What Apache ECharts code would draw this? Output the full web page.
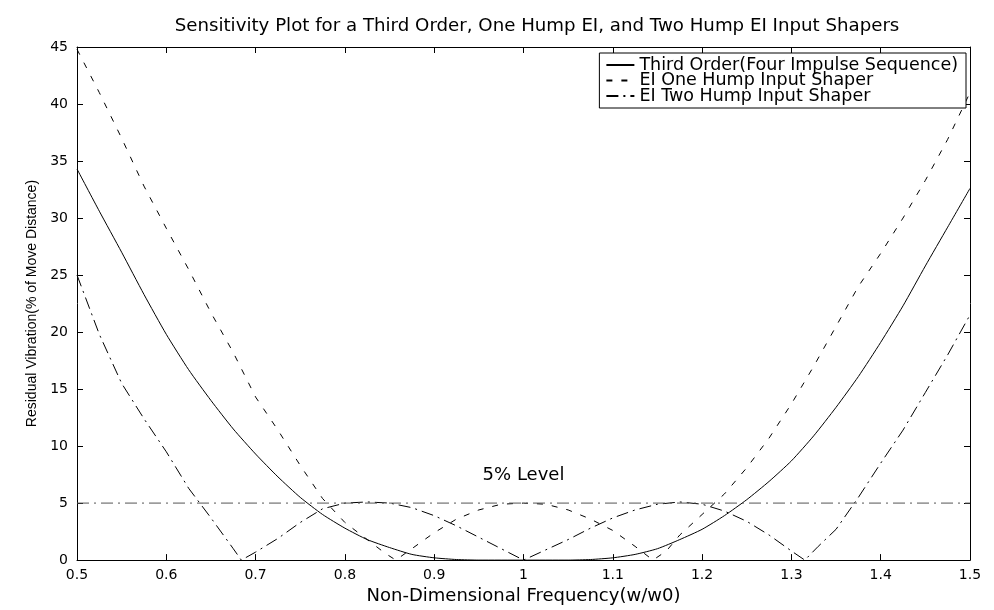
<!DOCTYPE html>
<html>
<head>
<meta charset="utf-8">
<script src="https://cdn.jsdelivr.net/npm/echarts@6/dist/echarts.min.js"></script>
<style>html,body{margin:0;padding:0;background:#fff;}#chart{width:994px;height:610px;}</style>
</head>
<body>
<div id="chart"></div>
<script>
const titleText = 'Sensitivity Plot for a Third Order, One Hump EI, and Two Hump EI Input Shapers';
const xAxisName = 'Non-Dimensional Frequency(w/w0)';
const yAxisName = 'Residual Vibration(% of Move Distance)';
const seriesNames = ['Third Order(Four Impulse Sequence)', 'EI One Hump Input Shaper', 'EI Two Hump Input Shaper'];
const xTickLabels = ['0.5','0.6','0.7','0.8','0.9','1','1.1','1.2','1.3','1.4','1.5'];
const yTickLabels = ['0','5','10','15','20','25','30','35','40','45'];

const thirdX = [0.5,0.525,0.55,0.575,0.6,0.625,0.65,0.675,0.7,0.725,0.75,0.775,0.8,0.825,0.85,0.875,0.9,0.925,0.95,1.0,1.05,1.075,1.1,1.125,1.15,1.175,1.2,1.225,1.25,1.275,1.3,1.325,1.35,1.375,1.4,1.425,1.45,1.475,1.5];
const thirdY = [34.3,30.6,27.0,23.3,19.8,16.7,14.0,11.5,9.3,7.3,5.5,4.0,2.8,1.8,1.1,0.5,0.2,0.05,0,0,0,0.05,0.2,0.5,1.0,1.8,2.7,3.9,5.3,6.9,8.7,10.9,13.4,16.1,19.1,22.3,25.8,29.2,32.6];

const oneHumpX = [0.5,0.525,0.55,0.575,0.6,0.625,0.65,0.675,0.7,0.725,0.75,0.775,0.8,0.825,0.845,0.857,0.875,0.9,0.925,0.95,0.975,1.0,1.025,1.05,1.075,1.1,1.125,1.145,1.16,1.175,1.2,1.225,1.25,1.275,1.3,1.325,1.35,1.375,1.4,1.425,1.45,1.475,1.5];
const oneHumpY = [44.8,41.0,37.0,32.8,29.1,25.5,21.7,18.2,14.3,11.4,8.3,5.4,3.3,1.8,0.6,0,1.0,2.4,3.6,4.4,4.9,5.0,4.9,4.4,3.6,2.6,1.2,0,0.8,2.2,4.0,5.8,8.1,10.7,13.7,17.0,20.5,24.0,26.9,30.0,33.3,36.9,41.0];

const twoHumpX = [0.5,0.525,0.55,0.575,0.6,0.625,0.65,0.675,0.684,0.7,0.725,0.75,0.775,0.8,0.825,0.85,0.875,0.9,0.925,0.95,0.975,1.0,1.025,1.05,1.075,1.1,1.125,1.15,1.175,1.2,1.225,1.25,1.275,1.3,1.315,1.33,1.35,1.375,1.4,1.425,1.45,1.475,1.5];
const twoHumpY = [25.0,19.8,15.5,12.4,9.5,6.3,3.7,1.0,0,0.7,1.9,3.3,4.5,5.0,5.1,5.0,4.6,3.9,3.0,2.0,1.0,0,0.9,1.8,2.8,3.7,4.4,4.9,5.1,4.9,4.3,3.4,2.2,0.8,0,1.2,2.7,5.5,8.5,11.4,14.7,18.0,21.5];

const levelX = [0.5, 1.5];
const levelY = [5, 5];
const levelLabel = '5% Level';
const levelLabelPos = [1.0, 7.4];

function pairs(xs, ys) { return xs.map((x, i) => [x, ys[i]]); }

const chart = echarts.init(document.getElementById('chart'));
const wide = 'DejaVu Sans, Verdana, sans-serif';
const narrow = 'Liberation Sans, Arial, sans-serif';
const axisLineStyle = { show: true, onZero: false, lineStyle: { color: '#000', width: 1 } };
const tickStyle = { show: true, inside: true, length: 6, lineStyle: { color: '#000' } };
chart.setOption({
  backgroundColor: '#fff',
  animation: false,
  textStyle: { fontFamily: wide, color: '#000' },
  title: { text: titleText, left: 537, top: 17, textAlign: 'center', padding: 0,
    textStyle: { fontSize: 18.2, fontWeight: 'normal', color: '#000', fontFamily: wide } },
  legend: {
    data: seriesNames, orient: 'vertical', right: 28, top: 53,
    itemWidth: 28, itemHeight: 12, itemGap: -2.5, padding: [3, 8, 3, 6],
    borderColor: '#000', borderWidth: 1, backgroundColor: '#fff', borderRadius: 0,
    itemStyle: { opacity: 0 },
    textStyle: { fontSize: 17.5, color: '#000', fontFamily: wide, lineHeight: 14 }
  },
  grid: { left: 77, right: 24, top: 47, bottom: 48, containLabel: false },
  xAxis: [
    { type: 'value', min: 0.5, max: 1.5, interval: 0.1,
      name: xAxisName, nameLocation: 'middle', nameGap: 24,
      nameTextStyle: { fontSize: 18, color: '#000', fontFamily: wide },
      axisLine: axisLineStyle, axisTick: tickStyle,
      axisLabel: { fontSize: 14, color: '#000', margin: 8, fontFamily: wide,
        formatter: v => xTickLabels[Math.round((v - 0.5) * 10)] },
      splitLine: { show: false } },
    { type: 'value', min: 0.5, max: 1.5, interval: 0.1, position: 'top',
      axisLine: axisLineStyle, axisTick: tickStyle,
      axisLabel: { show: false }, splitLine: { show: false } }
  ],
  yAxis: [
    { type: 'value', min: 0, max: 45, interval: 5,
      name: yAxisName, nameLocation: 'middle', nameGap: 38, nameRotate: 90,
      nameTextStyle: { fontSize: 14, color: '#000', fontFamily: narrow },
      axisLine: axisLineStyle, axisTick: tickStyle,
      axisLabel: { fontSize: 14, color: '#000', margin: 9, fontFamily: wide,
        formatter: v => yTickLabels[Math.round(v / 5)] },
      splitLine: { show: false } },
    { type: 'value', min: 0, max: 45, interval: 5, position: 'right',
      axisLine: axisLineStyle, axisTick: tickStyle,
      axisLabel: { show: false }, splitLine: { show: false } }
  ],
  series: [
    { name: seriesNames[0], type: 'line', data: pairs(thirdX, thirdY), showSymbol: false, symbol: 'none',
      smooth: 0.2, lineStyle: { color: '#000', width: 1, type: 'solid' }, itemStyle: { color: '#000' } },
    { name: seriesNames[1], type: 'line', data: pairs(oneHumpX, oneHumpY), showSymbol: false, symbol: 'none',
      lineStyle: { color: '#000', width: 1, type: [6, 9] }, itemStyle: { color: '#000' } },
    { name: seriesNames[2], type: 'line', data: pairs(twoHumpX, twoHumpY), showSymbol: false, symbol: 'none',
      lineStyle: { color: '#000', width: 1, type: [12, 5, 2, 5] }, itemStyle: { color: '#000' } },
    { name: levelLabel, type: 'line', data: pairs(levelX, levelY), showSymbol: false, symbol: 'none',
      lineStyle: { color: '#555', width: 1, type: [12, 5, 2, 5] }, itemStyle: { color: '#555' },
      markPoint: { symbol: 'rect', symbolSize: 0,
        data: [{ coord: levelLabelPos, value: levelLabel }],
        label: { show: true, position: 'inside', formatter: levelLabel, fontSize: 18, color: '#000', fontFamily: wide } } }
  ]
});
</script>
</body>
</html>
